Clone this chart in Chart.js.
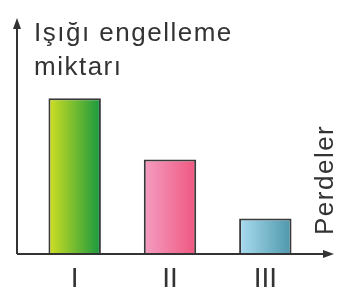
<!DOCTYPE html>
<html lang="tr">
<head>
  <meta charset="utf-8">
  <title>Işığı engelleme miktarı</title>
  <script src="https://cdn.jsdelivr.net/npm/chart.js@4.4.1/dist/chart.umd.min.js"></script>
  <style>
    html, body { margin: 0; padding: 0; background: #fff; }
    .chart-box { position: relative; width: 347px; height: 306px; }
  </style>
</head>
<body>
<div class="chart-box">
  <canvas id="canvas"></canvas>
</div>

<script>
  // data (arbitrary units, axis top = 10)
  var perdeler = ['I', 'II', 'III'];
  var miktar = [6.6, 4.0, 1.5];
  var yMax = 10;
  var gradLeft = ['#d2df22', '#f49dc1', '#aadcf0'];
  var gradRight = ['#17983f', '#ef5780', '#4e97ab'];

  var ink = '#333333';
  var barPct = 0.55;
  var txtFont = '26px "Liberation Sans", Arial, sans-serif';

  function barFill(ctx) {
    var chart = ctx.chart;
    var x = chart.scales.x;
    if (!x || !chart.chartArea) return gradLeft[ctx.dataIndex];
    var c = x.getPixelForValue(ctx.dataIndex);
    var half = (x.width / perdeler.length) * barPct / 2;
    var g = chart.ctx.createLinearGradient(c - half, 0, c + half, 0);
    g.addColorStop(0, gradLeft[ctx.dataIndex]);
    g.addColorStop(1, gradRight[ctx.dataIndex]);
    return g;
  }

  // axes with arrows, titles and category labels
  var decor = {
    id: 'decor',
    afterDatasetsDraw: function(chart) {
      var c = chart.ctx;
      var xs = chart.scales.x, ys = chart.scales.y;
      var y0 = ys.getPixelForValue(0);
      var axX = 17, topY = 18, endX = 334;
      c.save();
      c.strokeStyle = ink;
      c.fillStyle = ink;
      c.lineWidth = 2;
      c.beginPath();
      c.moveTo(axX, y0);
      c.lineTo(axX, topY + 6);
      c.moveTo(axX, y0);
      c.lineTo(endX - 6, y0);
      c.stroke();
      // arrow heads
      c.beginPath();
      c.moveTo(axX, topY);
      c.lineTo(axX - 4, topY + 11);
      c.lineTo(axX + 4, topY + 11);
      c.closePath();
      c.fill();
      c.beginPath();
      c.moveTo(endX, y0);
      c.lineTo(endX - 11, y0 - 4);
      c.lineTo(endX - 11, y0 + 4);
      c.closePath();
      c.fill();

      // y title
      c.font = txtFont;
      c.letterSpacing = '1.5px';
      c.textAlign = 'left';
      c.textBaseline = 'alphabetic';
      c.fillText('Işığı engelleme', 34, 41);
      c.fillText('miktarı', 34, 75);

      // x title, rotated
      c.save();
      c.translate(333, 235);
      c.rotate(-Math.PI / 2);
      c.fillText('Perdeler', 0, 0);
      c.restore();

      // category labels
      c.letterSpacing = '0px';
      c.font = '28px "Liberation Sans", Arial, sans-serif';
      c.textAlign = 'center';
      for (var i = 0; i < perdeler.length; i++) {
        c.fillText(perdeler[i], xs.getPixelForValue(i), 287);
      }
      c.restore();
    }
  };

  new Chart(document.getElementById('canvas'), {
    type: 'bar',
    data: {
      labels: perdeler,
      datasets: [{
        data: miktar,
        backgroundColor: barFill,
        borderColor: '#3a3a3a',
        borderWidth: 2,
        borderSkipped: 'bottom',
        barPercentage: barPct,
        categoryPercentage: 1
      }]
    },
    options: {
      responsive: true,
      maintainAspectRatio: false,
      animation: false,
      layout: { padding: { left: 27, right: 34, top: 18, bottom: 52 } },
      plugins: { legend: { display: false }, tooltip: { enabled: false } },
      scales: {
        x: { display: false },
        y: { display: false, min: 0, max: yMax }
      }
    },
    plugins: [decor]
  });
</script>
</body>
</html>
